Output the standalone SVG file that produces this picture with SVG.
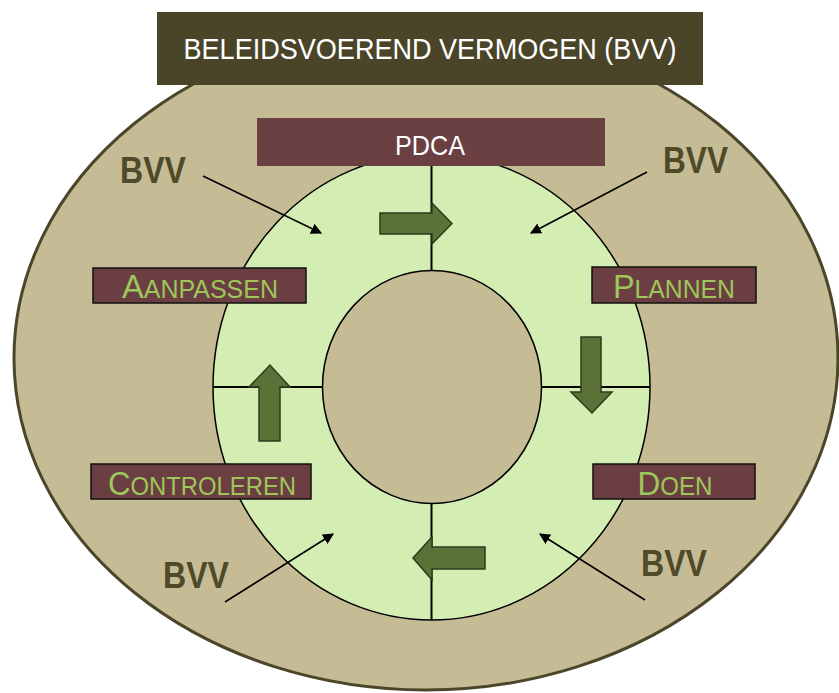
<svg xmlns="http://www.w3.org/2000/svg" width="839" height="693" viewBox="0 0 839 693">
<defs>
<marker id="tri" viewBox="0 0 10 10" refX="9" refY="5" markerWidth="11" markerHeight="11" markerUnits="userSpaceOnUse" orient="auto">
<path d="M0,0 L10,5 L0,10 Z" fill="#000"/>
</marker>
<style>
.lab{fill:#6B3F42;stroke:#111;stroke-width:1.5}
.labt{font-family:"Comic Sans MS","Liberation Sans",sans-serif;fill:#9EC65A;text-anchor:middle}
.big{font-size:34px}
.sm{font-size:26px}
.bvv{font-family:"Comic Sans MS","Liberation Sans",sans-serif;font-size:37px;font-weight:bold;fill:#4E4A2A}
.blk{fill:#5A7137;stroke:#2F3A1C;stroke-width:1.5;stroke-linejoin:miter}
.conn{stroke:#000;stroke-width:1.6;fill:none}
.div{stroke:#000;stroke-width:2;fill:none}
</style>
</defs>
<rect width="839" height="693" fill="#ffffff"/>
<g id="outer">
<ellipse cx="426" cy="358" rx="412" ry="332" fill="#C5BC96" stroke="#4B4629" stroke-width="3"/>
</g>
<g id="title">
<rect x="157" y="12" width="546" height="73" fill="#4A4528"/>
<text x="430" y="59" font-family="Comic Sans MS, Liberation Sans, sans-serif" font-size="29" fill="#ffffff" text-anchor="middle" textLength="493" lengthAdjust="spacingAndGlyphs">BELEIDSVOEREND VERMOGEN (BVV)</text>
</g>
<g id="ring">
<ellipse cx="431.5" cy="387" rx="218.5" ry="233" fill="#D4EDB2" stroke="#000" stroke-width="1.5"/>
</g>
<g id="core">
<ellipse cx="432" cy="387" rx="109.5" ry="116.5" fill="#C5BC96" stroke="#000" stroke-width="1.5"/>
</g>
<g id="pdca">
<rect x="257" y="118" width="348" height="48" fill="#6B4042"/>
<text x="430" y="155" font-family="Comic Sans MS, Liberation Sans, sans-serif" font-size="28" fill="#ffffff" text-anchor="middle" textLength="70" lengthAdjust="spacingAndGlyphs">PDCA</text>
</g>
<g id="dividers">
<line class="div" x1="431.5" y1="166" x2="431.5" y2="271"/>
<line class="div" x1="431.5" y1="503" x2="431.5" y2="620"/>
<line class="div" x1="213" y1="387" x2="322.5" y2="387"/>
<line class="div" x1="541.5" y1="387" x2="650" y2="387"/>
</g>
<g id="cycle-arrows">
<path class="blk" d="M380,213 L432,213 L432,203 L452,223.5 L432,244 L432,234 L380,234 Z"/>
<path class="blk" d="M581,337 L601,337 L601,392 L612,392 L592,413 L571,392 L581,392 Z"/>
<path class="blk" d="M485,547 L485,569 L432,569 L432,580 L413,558 L432,537 L432,547 Z"/>
<path class="blk" d="M259,441 L280,441 L280,387 L290,387 L270,365 L249,387 L259,387 Z"/>
</g>
<g id="aanpassen">
<rect class="lab" x="93" y="268" width="213" height="35"/>
<text class="labt" x="200" y="298" textLength="156" lengthAdjust="spacingAndGlyphs"><tspan class="big">A</tspan><tspan class="sm">ANPASSEN</tspan></text>
</g>
<g id="plannen">
<rect class="lab" x="592" y="267" width="164" height="36"/>
<text class="labt" x="674" y="298" textLength="122" lengthAdjust="spacingAndGlyphs"><tspan class="big">P</tspan><tspan class="sm">LANNEN</tspan></text>
</g>
<g id="controleren">
<rect class="lab" x="91" y="464" width="220" height="35"/>
<text class="labt" x="202" y="495" textLength="188" lengthAdjust="spacingAndGlyphs"><tspan class="big">C</tspan><tspan class="sm">ONTROLEREN</tspan></text>
</g>
<g id="doen">
<rect class="lab" x="593" y="464" width="162" height="35"/>
<text class="labt" x="675" y="495" textLength="75" lengthAdjust="spacingAndGlyphs"><tspan class="big">D</tspan><tspan class="sm">OEN</tspan></text>
</g>
<g id="bvv-tl"><text class="bvv" x="120" y="183" textLength="66" lengthAdjust="spacingAndGlyphs">BVV</text></g>
<g id="bvv-tr"><text class="bvv" x="663" y="173" textLength="65" lengthAdjust="spacingAndGlyphs">BVV</text></g>
<g id="bvv-bl"><text class="bvv" x="163" y="588" textLength="66" lengthAdjust="spacingAndGlyphs">BVV</text></g>
<g id="bvv-br"><text class="bvv" x="641" y="576" textLength="66" lengthAdjust="spacingAndGlyphs">BVV</text></g>
<g id="connectors">
<line class="conn" x1="203" y1="176" x2="321" y2="233" marker-end="url(#tri)"/>
<line class="conn" x1="647" y1="172" x2="531" y2="233" marker-end="url(#tri)"/>
<line class="conn" x1="225" y1="602" x2="333" y2="534" marker-end="url(#tri)"/>
<line class="conn" x1="645" y1="600" x2="540" y2="534" marker-end="url(#tri)"/>
</g>
</svg>
